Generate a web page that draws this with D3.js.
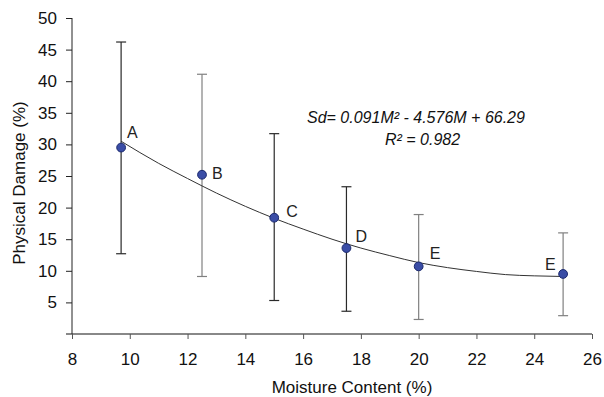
<!DOCTYPE html>
<html>
<head>
<meta charset="utf-8">
<script src="https://cdn.jsdelivr.net/npm/d3@7"></script>
<style>
  body { margin: 0; background: #fff; }
  text { font-family: "Liberation Sans", Arial, sans-serif; }
</style>
</head>
<body>
<svg id="chart" width="604" height="397"></svg>
<script>
// data
const labels   = ["A", "B", "C", "D", "E", "E"];
const moisture = [9.7, 12.5, 15, 17.5, 20, 25];
const damage   = [29.5, 25.2, 18.4, 13.6, 10.7, 9.5];
const errLow   = [12.7, 9.1, 5.3, 3.6, 2.3, 2.9];
const errHigh  = [46.2, 41.1, 31.7, 23.3, 18.9, 16.0];
const barDark  = [true, false, true, true, false, false];

// trend line, sampled from the drawn curve
const trendX = [9.7, 11, 12, 13, 14, 15, 16, 17, 18, 19, 20, 21, 22, 23, 24, 25];
const trendY = [30.5, 27.0, 24.6, 22.3, 20.2, 18.3, 16.6, 15.0, 13.6, 12.4, 11.3, 10.5, 9.9, 9.4, 9.2, 9.1];

const xTicks = [8, 10, 12, 14, 16, 18, 20, 22, 24, 26];
const yTicks = [5, 10, 15, 20, 25, 30, 35, 40, 45, 50];

const svg = d3.select("#chart");
const x = d3.scaleLinear().domain([8, 26]).range([72, 592]);
const y = d3.scaleLinear().domain([0, 50]).range([334, 18]);

// x axis
const xAxis = svg.append("g")
  .attr("transform", "translate(0,334)")
  .call(d3.axisBottom(x).tickValues(xTicks).tickSize(5).tickPadding(14).tickSizeOuter(0));
xAxis.select(".domain").attr("d", "M66,0H592").attr("stroke", "#888").attr("stroke-width", 2);
xAxis.selectAll(".tick line").attr("stroke", "#555");
xAxis.selectAll("text").attr("font-size", 17).attr("fill", "#111");

// y axis
const yAxis = svg.append("g")
  .attr("transform", "translate(72,0)")
  .call(d3.axisLeft(y).tickValues(yTicks).tickSize(6).tickPadding(9).tickSizeOuter(0));
yAxis.select(".domain").attr("d", "M0,334V18").attr("stroke", "#222");
yAxis.selectAll(".tick line").attr("stroke", "#222");
yAxis.selectAll("text").attr("font-size", 17).attr("fill", "#111");

// axis titles
svg.append("text")
  .attr("x", 352).attr("y", 393)
  .attr("text-anchor", "middle")
  .attr("font-size", 17).attr("fill", "#111")
  .text("Moisture Content (%)");
svg.append("text")
  .attr("transform", "translate(25,183) rotate(-90)")
  .attr("text-anchor", "middle")
  .attr("font-size", 17).attr("fill", "#111")
  .text("Physical Damage (%)");

const pts = moisture.map((m, i) => ({
  m, d: damage[i], lo: errLow[i], hi: errHigh[i], label: labels[i], dark: barDark[i], i
}));

// error bars
const bars = svg.append("g").selectAll("g").data(pts).join("g")
  .attr("stroke", d => d.dark ? "#2a2a2a" : "#808080")
  .attr("stroke-width", 1.2);
bars.append("line")
  .attr("x1", d => x(d.m)).attr("x2", d => x(d.m))
  .attr("y1", d => y(d.lo)).attr("y2", d => y(d.hi));
bars.append("line")
  .attr("x1", d => x(d.m) - 5).attr("x2", d => x(d.m) + 5)
  .attr("y1", d => y(d.lo)).attr("y2", d => y(d.lo));
bars.append("line")
  .attr("x1", d => x(d.m) - 5).attr("x2", d => x(d.m) + 5)
  .attr("y1", d => y(d.hi)).attr("y2", d => y(d.hi));

// trend line
const trend = trendX.map((v, i) => [v, trendY[i]]);
svg.append("path")
  .datum(trend)
  .attr("fill", "none")
  .attr("stroke", "#333")
  .attr("stroke-width", 1)
  .attr("d", d3.line().x(d => x(d[0])).y(d => y(d[1])).curve(d3.curveMonotoneX));

// points
svg.append("g").selectAll("circle").data(pts).join("circle")
  .attr("cx", d => x(d.m)).attr("cy", d => y(d.d))
  .attr("r", 4.4)
  .attr("fill", "#3a4da6")
  .attr("stroke", "#1c2a6e")
  .attr("stroke-width", 1);

// point letters
const labelOffset = [[6, -9.5], [10, 4.5], [12, -0.5], [9, -6], [11, -7], [-18, -4]];
svg.append("g").selectAll("text").data(pts).join("text")
  .attr("x", d => x(d.m) + labelOffset[d.i][0])
  .attr("y", d => y(d.d) + labelOffset[d.i][1])
  .attr("font-size", 16)
  .attr("fill", "#222")
  .text(d => d.label);

// equation
svg.append("text")
  .attr("x", 307).attr("y", 123)
  .attr("font-size", 16).attr("font-style", "italic").attr("fill", "#111")
  .text("Sd= 0.091M² - 4.576M + 66.29");
svg.append("text")
  .attr("x", 385).attr("y", 145)
  .attr("font-size", 16).attr("font-style", "italic").attr("fill", "#111")
  .text("R² = 0.982");
</script>
</body>
</html>
